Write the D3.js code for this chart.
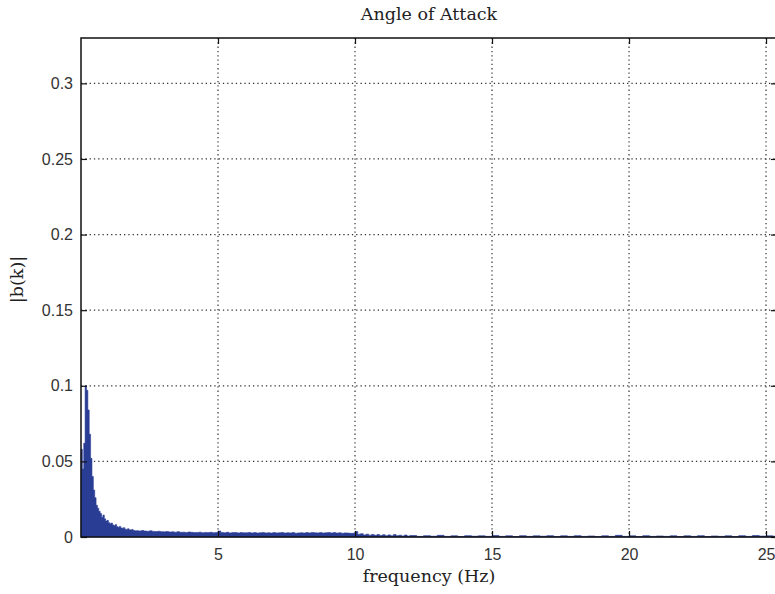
<!DOCTYPE html>
<html>
<head>
<meta charset="utf-8">
<script src="https://cdn.jsdelivr.net/npm/d3@7"></script>
<style>
  body { margin: 0; background: #fff; }
  .tick text { font-family: "Liberation Sans", Arial, sans-serif; font-size: 16px; fill: #333; }
  .label { font-family: "DejaVu Serif", serif; font-size: 17.5px; fill: #222; }
</style>
</head>
<body>
<div id="chart"></div>
<script>
// bin widths of the three bands (Hz) and where each band starts
const lowStart = 0, lowStep = 0.05;
const midStart = 2, midStep = 0.1;
const tailStart = 12, tailStep = 0.25;

// |b(k)|, 0 - 2 Hz
const lowBand = [0.058, 0.045, 0.062, 0.100, 0.097, 0.084, 0.068, 0.052, 0.040, 0.031,
    0.026, 0.021, 0.019, 0.017, 0.0155, 0.013, 0.0145, 0.012, 0.0105, 0.011,
    0.0095, 0.0088, 0.0092, 0.008, 0.0075, 0.0082, 0.0068, 0.0065, 0.007, 0.006,
    0.0058, 0.0062, 0.0052, 0.005, 0.0055, 0.0048, 0.0046, 0.005, 0.0044, 0.0042];

// 2 - 12 Hz
const midBand = [0.0042, 0.0040, 0.0043, 0.0039, 0.0038, 0.0041, 0.0037, 0.0036, 0.0038, 0.0035,
    0.0034, 0.0036, 0.0033, 0.0034, 0.0032, 0.0035, 0.0031, 0.0032, 0.0030, 0.0033,
    0.0031, 0.0029, 0.0030, 0.0032, 0.0028, 0.0030, 0.0029, 0.0031, 0.0028, 0.0030,
    0.0040, 0.0030, 0.0028, 0.0031, 0.0027, 0.0029, 0.0030, 0.0027, 0.0029, 0.0028,
    0.0028, 0.0030, 0.0027, 0.0029, 0.0026, 0.0028, 0.0030, 0.0027, 0.0028, 0.0026,
    0.0029, 0.0027, 0.0028, 0.0030, 0.0026, 0.0028, 0.0027, 0.0029, 0.0025, 0.0027,
    0.0028, 0.0026, 0.0029, 0.0027, 0.0030, 0.0028, 0.0027, 0.0029, 0.0026, 0.0028,
    0.0030, 0.0027, 0.0029, 0.0026, 0.0028, 0.0025, 0.0027, 0.0026, 0.0024, 0.0025,
    0.0036, 0.0018, 0.0022, 0.0014, 0.0019, 0.0012, 0.0017, 0.0011, 0.0016, 0.0010,
    0.0015, 0.0009, 0.0014, 0.0008, 0.0016, 0.0009, 0.0012, 0.0007, 0.0013, 0.0006];

// 12 Hz - end
const tailBand = [0.0010, 0.0004, 0.0009, 0.0005, 0.0011, 0.0004, 0.0008, 0.0003, 0.0009, 0.0005,
    0.0008, 0.0004, 0.0010, 0.0004, 0.0008, 0.0003, 0.0009, 0.0004, 0.0008, 0.0005,
    0.0009, 0.0003, 0.0008, 0.0004, 0.0009, 0.0004, 0.0007, 0.0003, 0.0008, 0.0004,
    0.0011, 0.0004, 0.0008, 0.0003, 0.0009, 0.0004, 0.0007, 0.0004, 0.0008, 0.0003,
    0.0008, 0.0004, 0.0009, 0.0003, 0.0007, 0.0004, 0.0008, 0.0003, 0.0009, 0.0004,
    0.0010, 0.0006, 0.0008, 0.0005, 0.0007];

const xTicks = [5, 10, 15, 20, 25];
const yTicks = [0, 0.05, 0.1, 0.15, 0.2, 0.25, 0.3];

// the right edge of the axes falls just outside the window, as in the original
const margin = {top: 38, right: -2, bottom: 57, left: 81},
    width = 775 - margin.left - margin.right,
    height = 594 - margin.top - margin.bottom;

const x = d3.scaleLinear().domain([0, 25.4]).range([0, width]);
const y = d3.scaleLinear().domain([0, 0.33]).range([height, 0]);

const svg = d3.select("#chart").append("svg")
    .attr("width", 775)
    .attr("height", 594)
    .append("g")
    .attr("transform", "translate(" + margin.left + "," + margin.top + ")");

// stitch the bands together
let spectrum = [];
lowBand.forEach(function(v, i) { spectrum.push({f: lowStart + i * lowStep, v: v}); });
midBand.forEach(function(v, i) { spectrum.push({f: midStart + i * midStep, v: v}); });
tailBand.forEach(function(v, i) { spectrum.push({f: tailStart + i * tailStep, v: v}); });
spectrum.push({f: x.domain()[1], v: tailBand[tailBand.length - 1]});

// grid
svg.append("g").selectAll("line")
    .data(xTicks)
    .enter().append("line")
    .attr("x1", function(d) { return x(d); })
    .attr("x2", function(d) { return x(d); })
    .attr("y1", 0).attr("y2", height)
    .attr("stroke", "#333").attr("stroke-width", 1.2)
    .attr("stroke-dasharray", "1.3,3");

svg.append("g").selectAll("line")
    .data(yTicks.slice(1))
    .enter().append("line")
    .attr("y1", function(d) { return y(d); })
    .attr("y2", function(d) { return y(d); })
    .attr("x1", 0).attr("x2", width)
    .attr("stroke", "#333").attr("stroke-width", 1.2)
    .attr("stroke-dasharray", "1.3,3");

const area = d3.area()
    .curve(d3.curveStepAfter)
    .x(function(d) { return x(d.f); })
    .y0(height)
    .y1(function(d) { return y(d.v); });

svg.append("path")
    .datum(spectrum)
    .attr("d", area)
    .attr("fill", "#2a3d95")
    .attr("stroke", "#2a3d95")
    .attr("stroke-width", 0.6);

// axes, ticks inward like matlab
svg.append("g")
    .attr("class", "x axis")
    .attr("transform", "translate(0," + height + ")")
    .call(d3.axisBottom(x).tickValues(xTicks).tickSize(-6).tickPadding(12).tickSizeOuter(0))
    .call(function(g) { g.select(".domain").remove(); });

svg.append("g")
    .attr("class", "y axis")
    .call(d3.axisLeft(y).tickValues(yTicks).tickFormat(d3.format("")).tickSize(-6).tickPadding(8).tickSizeOuter(0))
    .call(function(g) { g.select(".domain").remove(); });

svg.append("g")
    .call(d3.axisTop(x).tickValues(xTicks).tickFormat("").tickSize(-6).tickSizeOuter(0))
    .call(function(g) { g.select(".domain").remove(); });

svg.append("g")
    .attr("transform", "translate(" + width + ",0)")
    .call(d3.axisRight(y).tickValues(yTicks).tickFormat("").tickSize(-6).tickSizeOuter(0))
    .call(function(g) { g.select(".domain").remove(); });

svg.selectAll(".tick line").attr("stroke", "#111").attr("stroke-width", 1.2);

svg.append("rect")
    .attr("width", width)
    .attr("height", height)
    .attr("fill", "none")
    .attr("stroke", "#111")
    .attr("stroke-width", 1.5);

svg.append("text")
    .attr("class", "label")
    .attr("x", width / 2)
    .attr("y", -18)
    .style("text-anchor", "middle")
    .text("Angle of Attack");

svg.append("text")
    .attr("class", "label")
    .attr("x", width / 2)
    .attr("y", height + 45)
    .style("text-anchor", "middle")
    .text("frequency (Hz)");

svg.append("text")
    .attr("class", "label")
    .attr("transform", "rotate(-90)")
    .attr("x", -(height / 2) + 8)
    .attr("y", -58)
    .style("text-anchor", "middle")
    .text("|b(k)|");
</script>
</body>
</html>
